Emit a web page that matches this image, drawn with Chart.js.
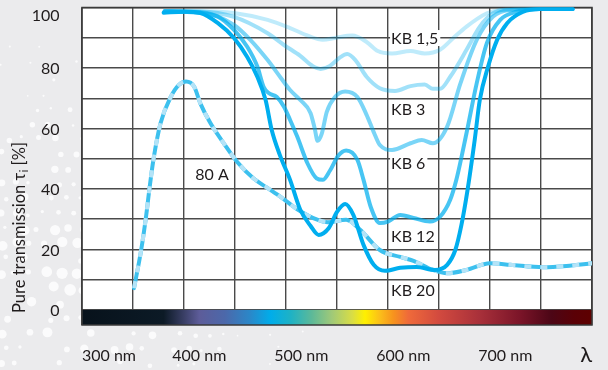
<!DOCTYPE html>
<html>
<head>
<meta charset="utf-8">
<script src="https://cdn.jsdelivr.net/npm/chart.js@4.4.1/dist/chart.umd.min.js"></script>
<style>
  html, body { margin: 0; padding: 0; background: #ebebed; }
  #wrap { width: 608px; height: 370px; }
</style>
</head>
<body>
<div id="wrap"><canvas id="chart" width="608" height="370"></canvas></div>
<script>
// Pure transmission curves, [wavelength nm, transmission %]
const KB_1_5 = [[366,98.8],[401,98.8],[434,98.2],[467,95.9],[489,93.2],[507,90.6],[521,89.3],[533,89.9],[550,90.7],[564,88.6],[575,85.6],[589,84.8],[607,85.6],[621,84.8],[636,86.0],[649,89.9],[662,93.7],[682,98.1],[695,99.2],[734,99.5],[766,99.5]];
const KB_3 = [[366,98.8],[401,98.7],[434,96.9],[467,91.5],[483,87.6],[499,84.0],[511,80.7],[519,79.7],[528,80.7],[538,83.5],[545,84.6],[553,82.6],[564,77.1],[577,73.3],[592,72.4],[607,74.0],[621,74.5],[629,73.1],[636,73.1],[646,77.1],[662,86.0],[675,93.7],[688,98.1],[701,99.3],[734,99.5],[766,99.5]];
const KB_6 = [[366,98.8],[401,98.5],[434,94.2],[450,89.3],[467,82.6],[480,76.7],[489,72.7],[499,69.4],[509,65.1],[513,60.2],[516,55.9],[520,58.2],[525,65.5],[533,70.4],[543,72.2],[555,70.4],[564,64.5],[571,58.8],[577,54.5],[589,52.9],[607,55.1],[618,56.2],[629,55.1],[643,60.6],[656,74.9],[672,89.3],[688,97.0],[704,99.2],[734,99.5],[766,99.5]];
const KB_12 = [[366,98.8],[385,98.6],[418,97.0],[434,92.6],[447,87.0],[457,80.4],[463,73.8],[468,71.7],[476,70.4],[483,67.2],[489,62.8],[496,57.3],[506,48.5],[515,43.5],[521,43.0],[528,46.0],[536,50.9],[544,52.7],[555,49.6],[561,43.0],[568,34.1],[577,28.7],[585,29.2],[597,31.4],[610,30.4],[626,29.2],[636,30.8],[646,36.4],[652,43.0],[662,58.5],[672,75.0],[682,88.3],[695,95.9],[711,98.6],[734,99.5],[766,99.5]];
const KB_20 = [[365,98.3],[385,98.6],[401,98.2],[418,94.9],[434,89.9],[447,83.6],[457,77.0],[465,69.4],[471,59.5],[479,51.2],[489,43.0],[499,33.1],[509,27.8],[517,24.8],[527,27.1],[535,32.4],[543,35.0],[551,31.4],[561,21.5],[571,14.9],[582,12.9],[597,13.9],[613,14.2],[631,13.2],[643,14.9],[651,19.8],[657,28.1],[663,39.7],[670,56.2],[675,69.4],[683,80.3],[692,89.3],[702,94.9],[717,98.5],[734,99.5],[766,99.5]];
const F_80A = [[336,7.2],[343,19.8],[348,31.4],[351,39.7],[355,49.6],[362,61.7],[372,70.4],[380,74.4],[387,75.5],[395,73.8],[401,68.3],[411,61.7],[424,55.1],[437,49.0],[453,43.5],[466,40.5],[480,37.3],[496,33.3],[515,29.9],[526,29.0],[544,29.8],[558,26.4],[577,19.8],[597,17.5],[610,16.2],[629,13.2],[643,12.1],[662,13.2],[685,15.4],[705,14.9],[737,14.1],[760,14.5],[785,15.4]];

// Axis ticks and texts
const X_TICKS = [300, 400, 500, 600, 700];
const X_TICK_LABELS = ['300 nm', '400 nm', '500 nm', '600 nm', '700 nm'];
const X_SYMBOL = 'λ';
const Y_TICKS = [0, 20, 40, 60, 80, 100];
const Y_TICK_LABELS = ['0', '20', '40', '60', '80', '100'];
const Y_TITLE = ['Pure transmission τ', 'i', ' [%]'];

const pts = arr => arr.map(([x, y]) => ({ x, y }));
const BLUE = a => `rgba(0,174,239,${a})`;
const FONT = 'Lato, "Open Sans", sans-serif';
const INK = '#1f1b1c';

function kbLine(label, data, alpha, order) {
  return {
    label, data: pts(data), order,
    borderColor: BLUE(alpha), borderWidth: 4,
    borderCapStyle: 'round', borderJoinStyle: 'round',
    cubicInterpolationMode: 'monotone', pointRadius: 0, fill: false
  };
}

// Text placed next to each curve: [text, left edge nm, centre %]
const CURVE_NOTES = [
  ['KB 1,5', 588, 89.9],
  ['KB 3', 588, 66.6],
  ['KB 6', 588, 48.6],
  ['KB 12', 588, 24.5],
  ['KB 20', 588, 6.6],
  ['80 A', 396, 45.0]
];

const decor = {
  id: 'decor',
  beforeDraw(chart) {
    const { ctx, chartArea: a, width, height } = chart;
    ctx.save();
    ctx.fillStyle = '#ebebed';
    ctx.fillRect(0, 0, width, height);
    // halftone dot texture around the lower left of the frame
    const step = 15;
    for (let j = 0; j * step < height + step; j++) {
      for (let i = 0; i * step < width + step; i++) {
        const h = Math.abs(Math.sin(i * 12.9898 + j * 78.233) * 43758.5453) % 1;
        const k = Math.abs(Math.sin(i * 39.346 + j * 11.135) * 24634.6345) % 1;
        const x = i * step + (j % 2) * step / 2 + (k - 0.5) * 6;
        const y = j * step + 3 + (h - 0.5) * 6;
        const d = Math.hypot(x - 55, (y - 280) * 1.05);
        const f = Math.max(0, 1 - d / 300);
        if (f <= 0 || h < 0.25) continue;
        const r = 6.5 * f * (0.3 + 0.7 * k);
        if (r < 0.8) continue;
        ctx.fillStyle = 'rgba(255,255,255,0.8)';
        ctx.beginPath();
        ctx.arc(x, y, r, 0, Math.PI * 2);
        ctx.fill();
      }
    }
    ctx.fillStyle = '#ffffff';
    ctx.fillRect(a.left, a.top, a.right - a.left, a.bottom - a.top);
    ctx.restore();
  },
  beforeDatasetsDraw(chart) {
    const { ctx, chartArea: a, scales: { x: xs, y: ys } } = chart;
    ctx.save();
    // visible spectrum strip below the zero line
    const y0 = ys.getPixelForValue(0);
    const g = ctx.createLinearGradient(a.left, 0, a.right, 0);
    const stops = [
      [0, '#07121b'], [0.16, '#0c1a26'], [0.20, '#3a3f66'], [0.23, '#5d5c99'],
      [0.28, '#4c68aa'], [0.33, '#2a88c9'], [0.37, '#00adea'], [0.41, '#1fb2c4'],
      [0.45, '#5cb999'], [0.49, '#a0c978'], [0.53, '#d9dd45'], [0.555, '#fff000'],
      [0.585, '#fbbd1a'], [0.61, '#f7941d'], [0.64, '#ef6a3a'], [0.70, '#d24a3f'],
      [0.78, '#a8303a'], [0.86, '#7a1428'], [0.92, '#4c0616'], [0.965, '#5a0006'],
      [1, '#5e0000']
    ];
    stops.forEach(([p, c]) => g.addColorStop(p, c));
    ctx.fillStyle = g;
    ctx.fillRect(a.left, y0, a.right - a.left, a.bottom - y0);
    // frame
    ctx.strokeStyle = '#3a3a3a';
    ctx.lineWidth = 1.5;
    ctx.strokeRect(a.left, a.top, a.right - a.left, a.bottom - a.top);
    // curve names on white boxes
    ctx.font = `16px ${FONT}`;
    ctx.textBaseline = 'middle';
    ctx.textAlign = 'left';
    CURVE_NOTES.forEach(([t, nm, v]) => {
      const px = xs.getPixelForValue(nm);
      const py = ys.getPixelForValue(v);
      const w = ctx.measureText(t).width;
      ctx.fillStyle = '#ffffff';
      ctx.fillRect(px - 1, py - 8, w + 3, 16);
      ctx.fillStyle = INK;
      ctx.fillText(t, px, py + 1);
    });
    ctx.restore();
  },
  afterDraw(chart) {
    const { ctx, chartArea: a, scales: { x: xs, y: ys } } = chart;
    ctx.save();
    ctx.fillStyle = INK;
    ctx.font = `16px ${FONT}`;
    ctx.textBaseline = 'middle';
    // y tick labels, kept inside the frame's height
    ctx.textAlign = 'right';
    Y_TICKS.forEach((v, i) => {
      const py = Math.max(ys.getPixelForValue(v), a.top + 7.5);
      ctx.fillText(Y_TICK_LABELS[i], a.left - 22.5, py + 1);
    });
    // x tick labels, kept inside the frame's width
    ctx.textAlign = 'left';
    const ly = a.bottom + 31;
    X_TICKS.forEach((v, i) => {
      const w = ctx.measureText(X_TICK_LABELS[i]).width;
      let left = xs.getPixelForValue(v) - w / 2;
      left = Math.min(Math.max(left, a.left), a.right - w);
      ctx.fillText(X_TICK_LABELS[i], left, ly);
    });
    ctx.font = `22px ${FONT}`;
    const ws = ctx.measureText(X_SYMBOL).width;
    ctx.fillText(X_SYMBOL, Math.min(xs.getPixelForValue(xs.max) - ws / 2, a.right - ws), ly - 1);
    // rotated y axis title with subscript
    ctx.translate(25, a.bottom - 12);
    ctx.rotate(-Math.PI / 2);
    ctx.textBaseline = 'alphabetic';
    ctx.font = `16.5px ${FONT}`;
    ctx.fillText(Y_TITLE[0], 0, 0);
    let off = ctx.measureText(Y_TITLE[0]).width;
    ctx.font = `11px ${FONT}`;
    ctx.fillText(Y_TITLE[1], off + 0.5, 3);
    off += ctx.measureText(Y_TITLE[1]).width + 0.5;
    ctx.font = `16.5px ${FONT}`;
    ctx.fillText(Y_TITLE[2], off, 0);
    ctx.restore();
  }
};

new Chart(document.getElementById('chart'), {
  type: 'line',
  data: {
    datasets: [
      kbLine('KB 20', KB_20, 1, 0),
      kbLine('KB 12', KB_12, 0.72, 1),
      kbLine('KB 6', KB_6, 0.52, 2),
      kbLine('KB 3', KB_3, 0.37, 3),
      kbLine('KB 1,5', KB_1_5, 0.25, 4),
      {
        label: '80 A', data: pts(F_80A), order: 5,
        borderColor: '#b4e3f7', borderWidth: 4, borderDash: [7, 9],
        cubicInterpolationMode: 'monotone', pointRadius: 0, fill: false
      },
      {
        label: '80 A base', data: pts(F_80A), order: 6,
        borderColor: '#3cc0ee', borderWidth: 4, borderCapStyle: 'round',
        cubicInterpolationMode: 'monotone', pointRadius: 0, fill: false
      }
    ]
  },
  options: {
    responsive: false,
    animation: false,
    devicePixelRatio: 1,
    layout: { padding: { left: 82, right: 16, top: 7.5, bottom: 45 } },
    plugins: { legend: { display: false }, tooltip: { enabled: false } },
    scales: {
      x: {
        type: 'linear', min: 285, max: 785,
        ticks: { display: false, stepSize: 50 },
        grid: { color: '#4a4a4a', lineWidth: 1.4, drawTicks: false },
        border: { display: false }
      },
      y: {
        type: 'linear', min: -5, max: 100,
        afterBuildTicks: s => { s.ticks = []; for (let v = 0; v <= 100; v += 10) s.ticks.push({ value: v }); },
        ticks: { display: false },
        grid: { color: '#4a4a4a', lineWidth: 1.4, drawTicks: false },
        border: { display: false }
      }
    }
  },
  plugins: [decor]
});
</script>
</body>
</html>
